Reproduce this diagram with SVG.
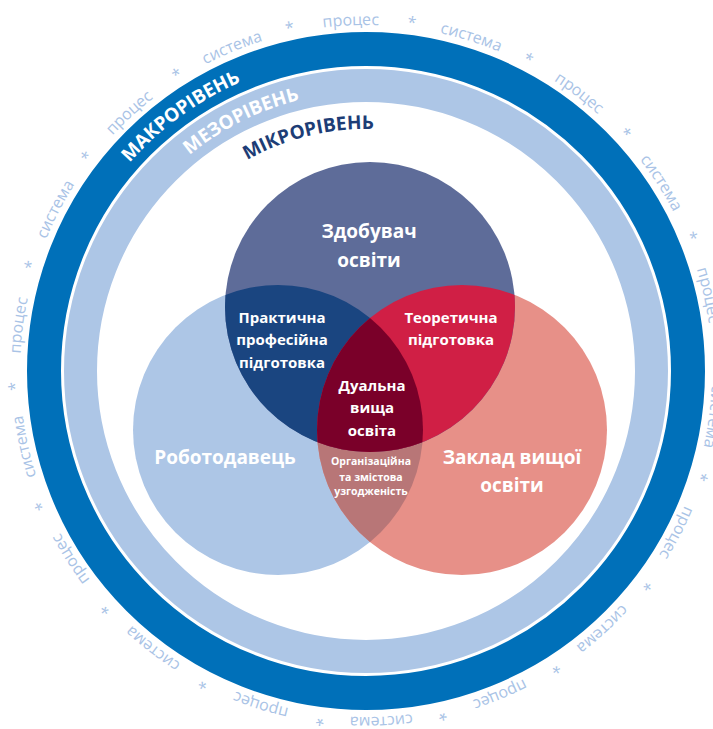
<svg xmlns="http://www.w3.org/2000/svg" width="713" height="729" viewBox="0 0 713 729">
<defs>
<style>
.f{font-family:"Open Sans","Noto Sans","Liberation Sans",sans-serif;}
.ow{font-size:16px;fill:#a9c3e6;}
.lvl{font-size:19px;font-weight:bold;}
.lb{font-weight:bold;fill:#ffffff;text-anchor:middle;}
.big{font-size:19px;}
.mid{font-size:15px;}
.sm{font-size:10.5px;}
</style>
<path id="rOut" d="M366,717 A346,346 0 1 1 366,25 A346,346 0 1 1 366,717"/>
<path id="rMacro" d="M366,686 A315,315 0 1 1 366,56 A315,315 0 1 1 366,686"/>
<path id="rMezo" d="M366,650 A279,279 0 1 1 366,92 A279,279 0 1 1 366,650"/>
<path id="rMicro" d="M366,613 A242,242 0 1 1 366,129 A242,242 0 1 1 366,613"/>
<clipPath id="cT"><circle cx="370" cy="307" r="145"/></clipPath>
<clipPath id="cL"><circle cx="278" cy="430" r="145"/></clipPath>
<clipPath id="cR"><circle cx="462" cy="430" r="145"/></clipPath>
</defs>
<rect width="713" height="729" fill="#ffffff"/>

<g id="rings">
<circle cx="366" cy="371" r="322" fill="none" stroke="#0070b9" stroke-width="34"/>
<circle cx="366" cy="371" r="285.5" fill="none" stroke="#adc6e6" stroke-width="33"/>
</g>

<g id="outer-words" class="f ow" text-anchor="middle">
<g transform="rotate(-2.5 366 371)"><text><textPath href="#rOut" startOffset="50%">процес</textPath></text></g>
<g transform="rotate(17.5 366 371)"><text><textPath href="#rOut" startOffset="50%">система</textPath></text></g>
<g transform="rotate(37.5 366 371)"><text><textPath href="#rOut" startOffset="50%">процес</textPath></text></g>
<g transform="rotate(57.5 366 371)"><text><textPath href="#rOut" startOffset="50%">система</textPath></text></g>
<g transform="rotate(77.5 366 371)"><text><textPath href="#rOut" startOffset="50%">процес</textPath></text></g>
<g transform="rotate(97.5 366 371)"><text><textPath href="#rOut" startOffset="50%">система</textPath></text></g>
<g transform="rotate(117.5 366 371)"><text><textPath href="#rOut" startOffset="50%">процес</textPath></text></g>
<g transform="rotate(137.5 366 371)"><text><textPath href="#rOut" startOffset="50%">система</textPath></text></g>
<g transform="rotate(157.5 366 371)"><text><textPath href="#rOut" startOffset="50%">процес</textPath></text></g>
<g transform="rotate(177.5 366 371)"><text><textPath href="#rOut" startOffset="50%">система</textPath></text></g>
<g transform="rotate(197.5 366 371)"><text><textPath href="#rOut" startOffset="50%">процес</textPath></text></g>
<g transform="rotate(217.5 366 371)"><text><textPath href="#rOut" startOffset="50%">система</textPath></text></g>
<g transform="rotate(237.5 366 371)"><text><textPath href="#rOut" startOffset="50%">процес</textPath></text></g>
<g transform="rotate(257.5 366 371)"><text><textPath href="#rOut" startOffset="50%">система</textPath></text></g>
<g transform="rotate(277.5 366 371)"><text><textPath href="#rOut" startOffset="50%">процес</textPath></text></g>
<g transform="rotate(297.5 366 371)"><text><textPath href="#rOut" startOffset="50%">система</textPath></text></g>
<g transform="rotate(317.5 366 371)"><text><textPath href="#rOut" startOffset="50%">процес</textPath></text></g>
<g transform="rotate(337.5 366 371)"><text><textPath href="#rOut" startOffset="50%">система</textPath></text></g>
<g transform="rotate(7.5 366 371)"><text><textPath href="#rOut" startOffset="50%">*</textPath></text></g>
<g transform="rotate(27.5 366 371)"><text><textPath href="#rOut" startOffset="50%">*</textPath></text></g>
<g transform="rotate(47.5 366 371)"><text><textPath href="#rOut" startOffset="50%">*</textPath></text></g>
<g transform="rotate(67.5 366 371)"><text><textPath href="#rOut" startOffset="50%">*</textPath></text></g>
<g transform="rotate(87.5 366 371)"><text><textPath href="#rOut" startOffset="50%">*</textPath></text></g>
<g transform="rotate(107.5 366 371)"><text><textPath href="#rOut" startOffset="50%">*</textPath></text></g>
<g transform="rotate(127.5 366 371)"><text><textPath href="#rOut" startOffset="50%">*</textPath></text></g>
<g transform="rotate(147.5 366 371)"><text><textPath href="#rOut" startOffset="50%">*</textPath></text></g>
<g transform="rotate(167.5 366 371)"><text><textPath href="#rOut" startOffset="50%">*</textPath></text></g>
<g transform="rotate(187.5 366 371)"><text><textPath href="#rOut" startOffset="50%">*</textPath></text></g>
<g transform="rotate(207.5 366 371)"><text><textPath href="#rOut" startOffset="50%">*</textPath></text></g>
<g transform="rotate(227.5 366 371)"><text><textPath href="#rOut" startOffset="50%">*</textPath></text></g>
<g transform="rotate(247.5 366 371)"><text><textPath href="#rOut" startOffset="50%">*</textPath></text></g>
<g transform="rotate(267.5 366 371)"><text><textPath href="#rOut" startOffset="50%">*</textPath></text></g>
<g transform="rotate(287.5 366 371)"><text><textPath href="#rOut" startOffset="50%">*</textPath></text></g>
<g transform="rotate(307.5 366 371)"><text><textPath href="#rOut" startOffset="50%">*</textPath></text></g>
<g transform="rotate(327.5 366 371)"><text><textPath href="#rOut" startOffset="50%">*</textPath></text></g>
<g transform="rotate(347.5 366 371)"><text><textPath href="#rOut" startOffset="50%">*</textPath></text></g>
</g>

<g id="level-labels" class="f lvl" text-anchor="middle">
<g transform="rotate(-36 366 371)"><text fill="#ffffff"><textPath href="#rMacro" startOffset="50%">МАКРОРІВЕНЬ</textPath></text></g>
<g transform="rotate(-26.5 366 371)"><text fill="#ffffff"><textPath href="#rMezo" startOffset="50%">МЕЗОРІВЕНЬ</textPath></text></g>
<g transform="rotate(-13.8 366 371)"><text fill="#1d3d76"><textPath href="#rMicro" startOffset="50%">МІКРОРІВЕНЬ</textPath></text></g>
</g>

<g id="venn">
<circle id="employer" cx="278" cy="430" r="145" fill="#adc6e6"/>
<circle id="university" cx="462" cy="430" r="145" fill="#e79088"/>
<circle id="student" cx="370" cy="307" r="145" fill="#5e6c99"/>
<circle id="overlap-LR" cx="278" cy="430" r="145" fill="#b87677" clip-path="url(#cR)"/>
<circle id="overlap-TL" cx="370" cy="307" r="145" fill="#1a4580" clip-path="url(#cL)"/>
<circle id="overlap-TR" cx="370" cy="307" r="145" fill="#d01f45" clip-path="url(#cR)"/>
<g id="overlap-all" clip-path="url(#cL)"><circle cx="370" cy="307" r="145" fill="#7a0029" clip-path="url(#cR)"/></g>
</g>

<g id="labels" class="f lb">
<g id="t-student" class="big"><text x="369" y="238">Здобувач</text><text x="369" y="267">освіти</text></g>
<g id="t-practice" class="mid"><text x="282" y="323">Практична</text><text x="282" y="345">професійна</text><text x="282" y="368">підготовка</text></g>
<g id="t-theory" class="mid"><text x="451" y="323">Теоретична</text><text x="451" y="345">підготовка</text></g>
<g id="t-dual" class="mid"><text x="372" y="391">Дуальна</text><text x="372" y="413">вища</text><text x="372" y="436">освіта</text></g>
<g id="t-org" class="sm"><text x="371" y="465">Організаційна</text><text x="371" y="481">та змістова</text><text x="371" y="495">узгодженість</text></g>
<g id="t-employer" class="big"><text x="225" y="464">Роботодавець</text></g>
<g id="t-university" class="big"><text x="512" y="464">Заклад вищої</text><text x="512" y="492">освіти</text></g>
</g>
</svg>
